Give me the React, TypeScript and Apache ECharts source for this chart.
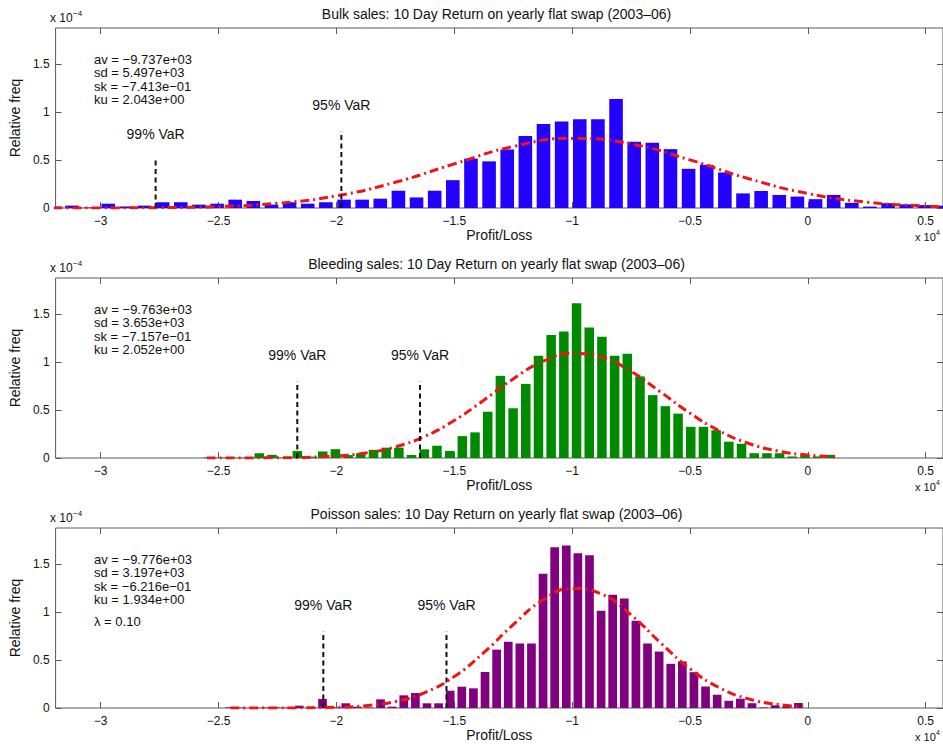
import React, { useEffect, useRef } from 'react';
import * as echarts from 'echarts';

const FONT = '"Liberation Sans", Arial, Helvetica, sans-serif';

// axis ticks (x in units of 1e4, y in units of 1e-4)
const xTicks = [-3, -2.5, -2, -1.5, -1, -0.5, 0, 0.5];
const yTicks = [0, 0.5, 1, 1.5];
const X_MIN = -3.1914;
const X_MAX = 0.5734;
const Y_MAX = 1.875;

// titles
const titles = [
  'Bulk sales: 10 Day Return on yearly flat swap (2003–06)',
  'Bleeding sales: 10 Day Return on yearly flat swap (2003–06)',
  'Poisson sales: 10 Day Return on yearly flat swap (2003–06)',
];

// stats text
const bulkStats = ['av = −9.737e+03', 'sd = 5.497e+03', 'sk = −7.413e−01', 'ku = 2.043e+00'];
const bleedStats = ['av = −9.763e+03', 'sd = 3.653e+03', 'sk = −7.157e−01', 'ku = 2.052e+00'];
const poissonStats = ['av = −9.776e+03', 'sd = 3.197e+03', 'sk = −6.216e−01', 'ku = 1.934e+00'];
const poissonLambda = 'λ = 0.10';

// histogram bins (first bin centre, bin width), relative frequencies
const bulkBinStart = -3.1988;
const bulkBinWidth = 0.07694;
const bulkFreq = [
  0.015, 0.025, 0.005, 0.045, 0.015, 0.025, 0.06, 0.06, 0.035, 0.045,
  0.087, 0.073, 0.035, 0.06, 0.045, 0.06, 0.087, 0.087, 0.097, 0.18,
  0.11, 0.18, 0.29, 0.514, 0.486, 0.61, 0.75, 0.875, 0.9, 0.925,
  0.925, 1.135, 0.69, 0.68, 0.613, 0.408, 0.45, 0.37, 0.152, 0.177,
  0.136, 0.119, 0.092, 0.136, 0.054, 0.015, 0.05, 0.038, 0.03, 0.024,
];

const bleedBinStart = -2.5426;
const bleedBinWidth = 0.05384;
const bleedFreq = [
  0.007, 0.004, 0.003, 0.005, 0.05, 0.033, 0.005, 0.073, 0.014, 0.068,
  0.092, 0.03, 0.05, 0.085, 0.108, 0.108, 0.031, 0.09, 0.128, 0.074,
  0.228, 0.267, 0.482, 0.856, 0.518, 0.772, 1.066, 1.28, 1.318, 1.612,
  1.36, 1.264, 1.066, 1.085, 0.85, 0.655, 0.54, 0.462, 0.325, 0.325,
  0.29, 0.17, 0.148, 0.05, 0.05, 0.05, 0.016, 0.031, 0.016, 0.033,
];

const poissonBinStart = -2.4528;
const poissonBinWidth = 0.04924;
const poissonFreq = [
  0.007, 0.004, 0.003, 0.005, 0.006, 0.004, 0.024, 0.01, 0.094, 0.007,
  0.049, 0.014, 0.005, 0.09, 0.014, 0.132, 0.156, 0.049, 0.049, 0.18,
  0.222, 0.205, 0.375, 0.608, 0.69, 0.672, 0.672, 1.398, 1.674, 1.694,
  1.613, 1.59, 1.013, 1.18, 1.14, 0.908, 0.672, 0.588, 0.46, 0.485,
  0.373, 0.224, 0.138, 0.075, 0.097, 0.05, 0.006, 0.028, 0.022, 0.052,
];

// fitted curves
const bulkCurveX = [-3.2, -3.0, -2.75, -2.5, -2.25, -2.0, -1.75, -1.5, -1.25, -1.0, -0.75, -0.5, -0.25, 0, 0.25, 0.5, 0.6];
const bulkCurveY = [0.0002, 0.0008, 0.004, 0.015, 0.049, 0.127, 0.268, 0.459, 0.64, 0.725, 0.668, 0.501, 0.305, 0.151, 0.061, 0.02, 0.012];

const bleedCurveX = [-2.55, -2.25, -2.0, -1.875, -1.75, -1.625, -1.5, -1.375, -1.25, -1.125, -1.0, -0.875, -0.75, -0.625, -0.5, -0.375, -0.25, -0.125, 0, 0.12];
const bleedCurveY = [0.0001, 0.0025, 0.0215, 0.053, 0.116, 0.226, 0.391, 0.602, 0.824, 1.005, 1.09, 1.051, 0.901, 0.688, 0.467, 0.282, 0.151, 0.072, 0.031, 0.012];

const poissonCurveX = [-2.45, -2.25, -2.0, -1.875, -1.75, -1.625, -1.5, -1.375, -1.25, -1.125, -1.0, -0.875, -0.75, -0.625, -0.5, -0.375, -0.25, -0.125, -0.02];
const poissonCurveY = [0.0, 0.0005, 0.0075, 0.024, 0.067, 0.161, 0.328, 0.576, 0.868, 1.122, 1.245, 1.186, 0.969, 0.679, 0.409, 0.211, 0.094, 0.036, 0.014];

// VaR markers: x position, line height
const bulkVaRX = [-2.767, -1.979];
const bulkVaRH = [0.5, 0.8];
const bleedVaRX = [-2.166, -1.6455];
const bleedVaRH = [0.8, 0.8];
const poissonVaRX = [-2.0556, -1.533];
const poissonVaRH = [0.8, 0.8];
const varLabels = ['99% VaR', '95% VaR'];

const barColors = ['#2400ff', '#008a00', '#800080'];
const CURVE_COLOR = '#f01414';
const AXIS_COLOR = '#5a5a5a';
const TEXT_COLOR = '#111111';

const PLOT_LEFT = 50;
const PLOT_W = 893;
const PLOT_H = 180;
const PLOT_TOP0 = 28;
const PANEL_STEP = 250;

const fmtX = (v: number) => (v === 0 ? '0' : v < 0 ? '−' + String(-v) : String(v));

export default function App() {
  const ref = useRef<HTMLDivElement>(null);

  useEffect(() => {
    if (!ref.current) return;
    const chart = echarts.init(ref.current, undefined, { renderer: 'svg' });

    const panels = [
      { start: bulkBinStart, width: bulkBinWidth, freq: bulkFreq, cx: bulkCurveX, cy: bulkCurveY, vx: bulkVaRX, vh: bulkVaRH, stats: bulkStats },
      { start: bleedBinStart, width: bleedBinWidth, freq: bleedFreq, cx: bleedCurveX, cy: bleedCurveY, vx: bleedVaRX, vh: bleedVaRH, stats: bleedStats },
      { start: poissonBinStart, width: poissonBinWidth, freq: poissonFreq, cx: poissonCurveX, cy: poissonCurveY, vx: poissonVaRX, vh: poissonVaRH, stats: poissonStats },
    ];

    const grids: any[] = [];
    const xAxes: any[] = [];
    const yAxes: any[] = [];
    const series: any[] = [];
    const graphics: any[] = [];

    const txt = (x: number, y: number, text: string, fontSize: number, align = 'left', extra: any = {}) => ({
      type: 'text', x, y,
      style: {
        text, fontSize, fontFamily: FONT, fill: TEXT_COLOR,
        textAlign: align, align, textVerticalAlign: 'middle', verticalAlign: 'middle', ...extra,
      },
    });

    panels.forEach((p, i) => {
      const top = PLOT_TOP0 + i * PANEL_STEP;
      grids.push({
        left: PLOT_LEFT, top, width: PLOT_W, height: PLOT_H,
        show: true, borderColor: AXIS_COLOR, borderWidth: 1, backgroundColor: '#fff',
      });
      const tickCommon = { show: true, inside: true, length: 6, lineStyle: { color: AXIS_COLOR, width: 1 } };
      xAxes.push({
        gridIndex: i, type: 'value', min: X_MIN, max: X_MAX, position: 'bottom',
        axisLine: { show: false, onZero: false },
        axisTick: { ...tickCommon, customValues: xTicks },
        axisLabel: { show: true, customValues: xTicks, formatter: fmtX, fontSize: 12, color: TEXT_COLOR, fontFamily: FONT, margin: 7 },
        splitLine: { show: false },
        name: 'Profit/Loss', nameLocation: 'middle', nameGap: 17,
        nameTextStyle: { fontSize: 14, color: TEXT_COLOR, fontFamily: FONT, verticalAlign: 'top' },
      });
      xAxes.push({
        gridIndex: i, type: 'value', min: X_MIN, max: X_MAX, position: 'top',
        axisLine: { show: false, onZero: false },
        axisTick: { ...tickCommon, customValues: xTicks },
        axisLabel: { show: false },
        splitLine: { show: false },
      });
      yAxes.push({
        gridIndex: i, type: 'value', min: 0, max: Y_MAX, position: 'left',
        axisLine: { show: false, onZero: false },
        axisTick: { ...tickCommon, customValues: yTicks },
        axisLabel: { show: true, customValues: yTicks, fontSize: 12, color: TEXT_COLOR, fontFamily: FONT, margin: 6 },
        splitLine: { show: false },
        name: 'Relative freq', nameLocation: 'middle', nameRotate: 90, nameGap: 25,
        nameTextStyle: { fontSize: 14, color: TEXT_COLOR, fontFamily: FONT },
      });
      yAxes.push({
        gridIndex: i, type: 'value', min: 0, max: Y_MAX, position: 'right',
        axisLine: { show: false, onZero: false },
        axisTick: { ...tickCommon, customValues: yTicks },
        axisLabel: { show: false },
        splitLine: { show: false },
      });

      const color = barColors[i];
      const barFrac = 0.75;
      series.push({
        type: 'custom',
        xAxisIndex: i * 2, yAxisIndex: i * 2,
        encode: { x: 0, y: 1 },
        data: p.freq.map((v, k) => [p.start + k * p.width, v, p.width * barFrac]),
        renderItem: (params: any, api: any) => {
          const c = api.value(0) as number;
          const h = api.value(1) as number;
          const w = api.value(2) as number;
          const p0 = api.coord([c - w / 2, h]);
          const p1 = api.coord([c + w / 2, 0]);
          const cs = params.coordSys;
          const shape = echarts.graphic.clipRectByRect(
            { x: p0[0], y: p0[1], width: p1[0] - p0[0], height: p1[1] - p0[1] },
            { x: cs.x, y: cs.y, width: cs.width, height: cs.height }
          );
          return shape ? { type: 'rect', shape, style: { fill: color } } : null;
        },
        z: 2,
      });

      series.push({
        type: 'line',
        xAxisIndex: i * 2, yAxisIndex: i * 2,
        data: p.cx.map((x, k) => [x, p.cy[k]]),
        smooth: true, symbol: 'none', clip: true,
        lineStyle: { color: CURVE_COLOR, width: 3, type: [9, 4, 2, 4] },
        z: 3,
      });

      p.vx.forEach((x, k) => {
        series.push({
          type: 'line',
          xAxisIndex: i * 2, yAxisIndex: i * 2,
          data: [
            { value: [x, 0], symbolSize: 0.1 },
            {
              value: [x, p.vh[k]], symbolSize: 0.1,
              label: { show: true, position: 'top', distance: 19, formatter: varLabels[k], fontSize: 14, color: TEXT_COLOR, fontFamily: FONT },
            },
          ],
          symbol: 'circle', showSymbol: true,
          itemStyle: { color: 'rgba(0,0,0,0)' },
          lineStyle: { color: '#111', width: 2, type: [5, 3.5] },
          label: { show: false },
          z: 4,
        });
      });

      // title
      graphics.push(txt(PLOT_LEFT + PLOT_W / 2, 14 + i * PANEL_STEP, titles[i], 14, 'center'));
      // y exponent
      graphics.push(txt(PLOT_LEFT, 18 + i * PANEL_STEP, 'x 10', 12));
      graphics.push(txt(PLOT_LEFT + 23, 13 + i * PANEL_STEP, '−4', 8));
      // x exponent
      graphics.push(txt(915, 237 + i * PANEL_STEP, 'x 10', 11));
      graphics.push(txt(936, 232 + i * PANEL_STEP, '4', 7));
      // stats, one line each
      p.stats.forEach((s, k) => {
        graphics.push(txt(94, top + 31 + k * 13.5, s, 13));
      });
      if (i === 2) {
        graphics.push(txt(94, top + 93, poissonLambda, 13));
      }
    });

    chart.setOption({
      animation: false,
      backgroundColor: '#ffffff',
      textStyle: { fontFamily: FONT },
      grid: grids,
      xAxis: xAxes,
      yAxis: yAxes,
      series,
      graphic: graphics,
    });

    return () => chart.dispose();
  }, []);

  return (
    <div
      ref={ref}
      style={{ position: 'fixed', left: 0, top: 0, width: 943, height: 744, background: '#fff' }}
    />
  );
}
